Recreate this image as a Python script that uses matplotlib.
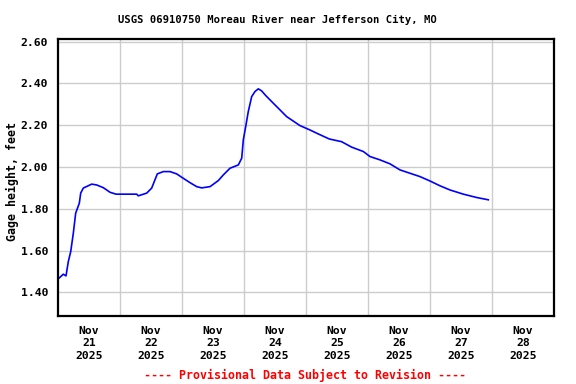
import numpy as np
import matplotlib
matplotlib.use('Agg')
import matplotlib.pyplot as plt

# %% Dados (dias desde 21/nov 00:00, altura em pes)

dias = [0.016, 0.085, 0.129, 0.166, 0.205, 0.247, 0.285, 0.344, 0.366, 0.408,
        0.543, 0.624, 0.731, 0.839, 0.935, 1.269, 1.295, 1.431, 1.511, 1.602,
        1.699, 1.806, 1.914, 2.005, 2.129, 2.237, 2.318, 2.452, 2.586, 2.666,
        2.774, 2.909, 2.963, 2.989, 3.032, 3.069, 3.124, 3.177, 3.231, 3.285,
        3.350, 3.473, 3.581, 3.688, 3.903, 4.065, 4.199, 4.376, 4.575,
        4.736, 4.925, 5.032, 5.194, 5.355, 5.516, 5.677, 5.839, 6.000, 6.161,
        6.323, 6.538, 6.753, 6.940]
altura = [1.468, 1.487, 1.479, 1.547, 1.595, 1.683, 1.779, 1.827, 1.875, 1.899,
          1.918, 1.914, 1.901, 1.879, 1.870, 1.870, 1.862, 1.875, 1.899, 1.967,
          1.978, 1.978, 1.967, 1.949, 1.925, 1.906, 1.900, 1.906, 1.935, 1.962,
          1.994, 2.010, 2.042, 2.130, 2.201, 2.265, 2.337, 2.361, 2.374, 2.364,
          2.342, 2.305, 2.273, 2.241, 2.198, 2.177, 2.158, 2.134, 2.121,
          2.095, 2.074, 2.050, 2.034, 2.015, 1.986, 1.970, 1.954, 1.933, 1.910,
          1.890, 1.870, 1.854, 1.843]

rotulos_x = ['Nov\n21\n2025', 'Nov\n22\n2025', 'Nov\n23\n2025', 'Nov\n24\n2025',
             'Nov\n25\n2025', 'Nov\n26\n2025', 'Nov\n27\n2025', 'Nov\n28\n2025']
ticks_y = [1.40, 1.60, 1.80, 2.00, 2.20, 2.40, 2.60]

# %% Plot

plt.rcParams['font.family'] = 'DejaVu Sans Mono'
plt.rcParams['font.weight'] = 'bold'

fig = plt.figure(figsize=(5.76, 3.84), dpi=100)
ax = fig.add_axes([58/576, 1-316/384, (554-58)/576, (316-39.3)/384])

ax.plot(dias, altura, color='#0000ff', linewidth=1.2)

ax.set_xlim(0, 8)
ax.set_ylim(1.287, 2.611)
ax.set_xticks(np.arange(1, 8))
ax.set_xticklabels([])
ax.set_xticks(np.arange(8) + 0.5, minor=True)
ax.set_xticklabels(rotulos_x, minor=True, fontsize=8.2, fontweight='bold',
                   linespacing=1.3)
ax.set_yticks(ticks_y)
ax.set_yticklabels(['%.2f' % v for v in ticks_y], fontsize=8.2, fontweight='bold')
ax.tick_params(which='both', length=0)
ax.tick_params(axis='x', which='minor', pad=7)
ax.tick_params(axis='y', pad=7)
ax.grid(True, which='major', color='#cccccc', linewidth=1.0)
ax.set_axisbelow(True)
for s in ax.spines.values():
    s.set_linewidth(1.6)

fig.text(277/576, 1-20/384, 'USGS 06910750 Moreau River near Jefferson City, MO',
         ha='center', va='center', fontsize=7.6, fontweight='bold')
fig.text(12/576, 1-182/384, 'Gage height, feet', rotation=90,
         ha='center', va='center', fontsize=8.4, fontweight='bold')
fig.text(305/576, 1-375/384, '---- Provisional Data Subject to Revision ----',
         ha='center', va='center', fontsize=8.4, fontweight='bold', color='red')

fig.savefig('out.png', dpi=100)
